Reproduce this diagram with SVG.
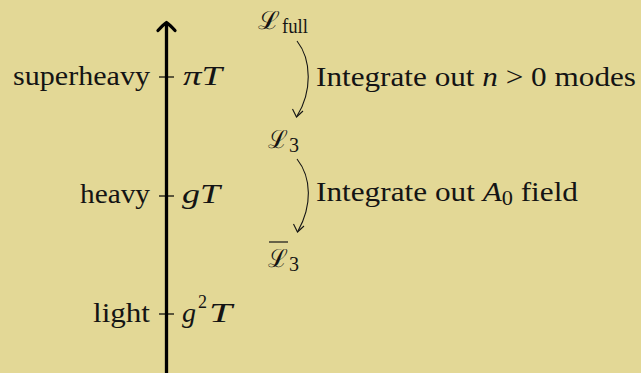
<svg xmlns="http://www.w3.org/2000/svg" width="641" height="373" viewBox="0 0 641 373">
<style>
.ax{stroke:#000;stroke-width:3.3;fill:none}
.tk{stroke:#000;stroke-width:1.2}
.cn{stroke:#141414;stroke-width:1.1;fill:none}
</style>
<rect width="641" height="373" fill="#E3D896"/>
<g id="axis">
<line class="ax" x1="166.5" y1="373" x2="166.5" y2="24"/>
<path class="ax" d="M158,30.5 Q163,25 166.5,22.5 Q170,25 175,30.5" stroke-width="2.6" stroke-linecap="round" stroke-linejoin="round"/>
</g>
<g id="superheavy">
<line class="tk" x1="159" y1="77" x2="174" y2="77"/>
<text font-family="Liberation Serif" font-size="28" fill="#141414" x="150" y="85" text-anchor="end" textLength="137" lengthAdjust="spacingAndGlyphs">superheavy</text>
<text font-family="Liberation Serif" font-size="28" fill="#141414" font-style="italic" x="183" y="85" textLength="39" lengthAdjust="spacingAndGlyphs">πT</text>
</g>
<g id="heavy">
<line class="tk" x1="159" y1="196" x2="174" y2="196"/>
<text font-family="Liberation Serif" font-size="28" fill="#141414" x="150" y="203" text-anchor="end" textLength="70" lengthAdjust="spacingAndGlyphs">heavy</text>
<text font-family="Liberation Serif" font-size="28" fill="#141414" font-style="italic" x="182" y="203" textLength="38" lengthAdjust="spacingAndGlyphs">gT</text>
</g>
<g id="light">
<line class="tk" x1="159" y1="314" x2="174" y2="314"/>
<text font-family="Liberation Serif" font-size="28" fill="#141414" x="150" y="322" text-anchor="end" textLength="57" lengthAdjust="spacingAndGlyphs">light</text>
<text font-family="Liberation Serif" font-size="28" fill="#141414" font-style="italic" x="182" y="322">g</text>
<text font-family="Liberation Serif" font-size="18" fill="#141414" x="198" y="308">2</text>
<text font-family="Liberation Serif" font-size="28" fill="#141414" font-style="italic" x="209" y="322" textLength="23" lengthAdjust="spacingAndGlyphs">T</text>
</g>
<g id="Lfull">
<text font-family="DejaVu Serif" font-size="25" fill="#141414" x="258" y="29" textLength="22" lengthAdjust="spacingAndGlyphs">ℒ</text>
<text font-family="Liberation Serif" font-size="20" fill="#141414" x="282" y="33" textLength="26" lengthAdjust="spacingAndGlyphs">full</text>
</g>
<g id="L3">
<text font-family="DejaVu Serif" font-size="25" fill="#141414" x="268" y="148" textLength="20" lengthAdjust="spacingAndGlyphs">ℒ</text>
<text font-family="Liberation Serif" font-size="20" fill="#141414" x="289" y="152">3</text>
</g>
<g id="L3bar">
<line x1="269" y1="242" x2="288" y2="242" stroke="#141414" stroke-width="1.2"/>
<text font-family="DejaVu Serif" font-size="25" fill="#141414" x="268" y="267" textLength="20" lengthAdjust="spacingAndGlyphs">ℒ</text>
<text font-family="Liberation Serif" font-size="20" fill="#141414" x="289" y="271">3</text>
</g>
<g id="connectors">
<path class="cn" d="M297,41 C312,60 312,92 297,116"/>
<path class="cn" d="M292.5,109 L296.5,117 L303,111"/>
<path class="cn" d="M297,159 C312,178 312,206 298,231"/>
<path class="cn" d="M293.5,224 L297.5,232 L304,226"/>
<text font-family="Liberation Serif" font-size="28" fill="#141414" x="316" y="86" textLength="320" lengthAdjust="spacingAndGlyphs">Integrate out <tspan font-style="italic">n</tspan> &gt; 0 modes</text>
<text font-family="Liberation Serif" font-size="28" fill="#141414" x="316" y="201" textLength="262" lengthAdjust="spacingAndGlyphs">Integrate out <tspan font-style="italic">A</tspan><tspan font-size="20" dy="4">0</tspan><tspan dy="-4"> field</tspan></text>
</g>
</svg>
